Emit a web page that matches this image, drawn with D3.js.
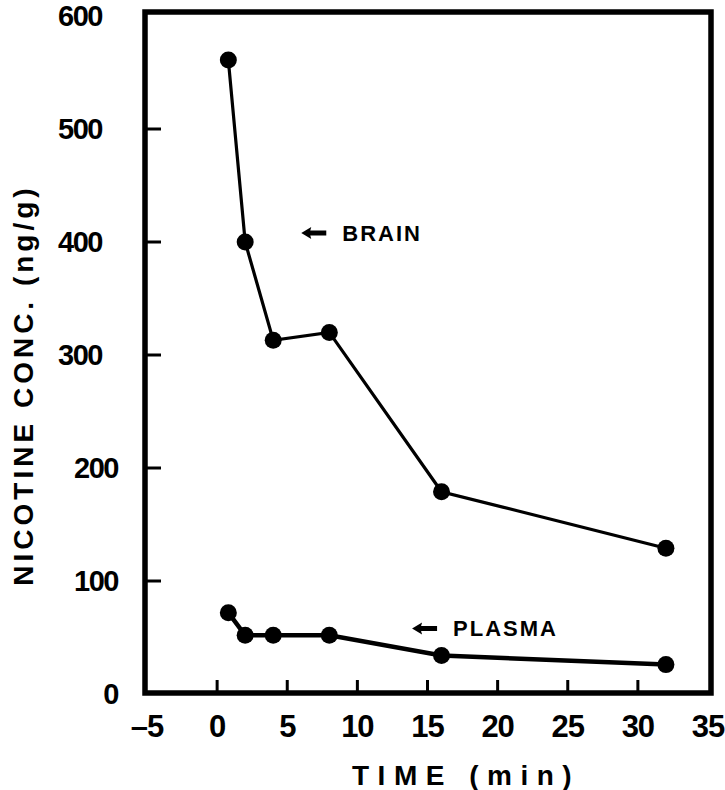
<!DOCTYPE html>
<html>
<head>
<meta charset="utf-8">
<script src="https://cdn.jsdelivr.net/npm/d3@7"></script>
<style>
  html, body { margin: 0; padding: 0; background: #fff; }
  svg { display: block; }
  text { font-family: "Liberation Sans", Arial, Helvetica, sans-serif; fill: #000; }
</style>
</head>
<body>
<script>
// Nicotine concentration after dosing, brain vs plasma
const timeMin     = [0.8, 2, 4, 8, 16, 32];
const brainConc   = [561, 400, 313, 320, 179, 129];
const plasmaConc  = [72, 52, 52, 52, 34, 26];
const xTicks      = [-5, 0, 5, 10, 15, 20, 25, 30, 35];
const yTicks      = [0, 100, 200, 300, 400, 500, 600];
const seriesNames = ["BRAIN", "PLASMA"];
const labelAt     = [[6, 408], [13.9, 58]];   // arrow tip in data units

const W = 725, H = 790;
const margin = { left: 147, top: 16, right: 17, bottom: 96 };
const iw = W - margin.left - margin.right;
const ih = H - margin.top - margin.bottom;

const svg = d3.select("body").append("svg")
  .attr("width", W).attr("height", H);
const g = svg.append("g").attr("transform", `translate(${margin.left},${margin.top})`);

const x = d3.scaleLinear().domain([-5, 35]).range([0, iw]);
const y = d3.scaleLinear().domain([0, 600]).range([ih, 0]);

// frame
g.append("rect")
  .attr("x", -2).attr("y", -4)
  .attr("width", iw + 5).attr("height", ih + 3)
  .attr("fill", "none").attr("stroke", "#000").attr("stroke-width", 5.5);

// inward tick marks
g.selectAll(".ytick").data(yTicks.filter(v => v > 0 && v < 600)).enter()
  .append("line")
  .attr("x1", 0).attr("x2", 14)
  .attr("y1", d => y(d)).attr("y2", d => y(d))
  .attr("stroke", "#000").attr("stroke-width", 3);
g.selectAll(".xtick").data(xTicks.filter(v => v > -5 && v < 35)).enter()
  .append("line")
  .attr("x1", d => x(d)).attr("x2", d => x(d))
  .attr("y1", ih - 1).attr("y2", ih - 14)
  .attr("stroke", "#000").attr("stroke-width", 3);

// tick labels
const fmt = d3.format("d");
g.selectAll(".ylab").data(yTicks).enter()
  .append("text")
  .attr("x", d => d >= 300 ? -45 : -29)
  .attr("y", d => y(d))
  .attr("dy", "0.36em")
  .attr("text-anchor", "end")
  .style("font-size", "29px").style("font-weight", "bold")
  .style("letter-spacing", "-1.5px")
  .text(d => fmt(d));
g.selectAll(".xlab").data(xTicks).enter()
  .append("text")
  .attr("x", d => x(d))
  .attr("y", ih + 43)
  .attr("text-anchor", "middle")
  .style("font-size", "31px").style("font-weight", "bold")
  .style("letter-spacing", "-1px")
  .text(d => d < 0 ? "\u2013" + fmt(-d) : fmt(d));

// axis titles
svg.append("text")
  .attr("transform", `translate(33,${margin.top + ih / 2 + 30}) rotate(-90)`)
  .attr("text-anchor", "middle")
  .style("font-size", "28px").style("font-weight", "bold")
  .style("letter-spacing", "4px")
  .text("NICOTINE CONC. (ng/g)");
svg.append("text")
  .attr("x", 352).attr("y", 785)
  .style("font-size", "28px").style("font-weight", "bold")
  .style("letter-spacing", "8.5px")
  .text("TIME (min)");

// series lines and markers
const line = d3.line().x(d => x(d[0])).y(d => y(d[1]));
[[brainConc, 3.2], [plasmaConc, 4.5]].forEach(([vals, sw]) => {
  const pts = timeMin.map((t, i) => [t, vals[i]]);
  g.append("path").datum(pts)
    .attr("d", line)
    .attr("fill", "none").attr("stroke", "#000").attr("stroke-width", sw);
  g.selectAll(null).data(pts).enter()
    .append("circle")
    .attr("cx", d => x(d[0])).attr("cy", d => y(d[1]))
    .attr("r", 8.5).attr("fill", "#000");
});

// arrow labels
seriesNames.forEach((name, i) => {
  const tx = x(labelAt[i][0]), ty = y(labelAt[i][1]);
  g.append("path")
    .attr("d", `M${tx},${ty} L${tx + 10},${ty - 6} L${tx + 9},${ty - 2.5} L${tx + 25},${ty - 2.5} L${tx + 25},${ty + 2.5} L${tx + 9},${ty + 2.5} L${tx + 10},${ty + 6} Z`)
    .attr("fill", "#000");
  g.append("text")
    .attr("x", tx + 41).attr("y", ty + 8)
    .style("font-size", "22px").style("font-weight", "bold")
    .style("letter-spacing", "2px")
    .text(name);
});
</script>
</body>
</html>
